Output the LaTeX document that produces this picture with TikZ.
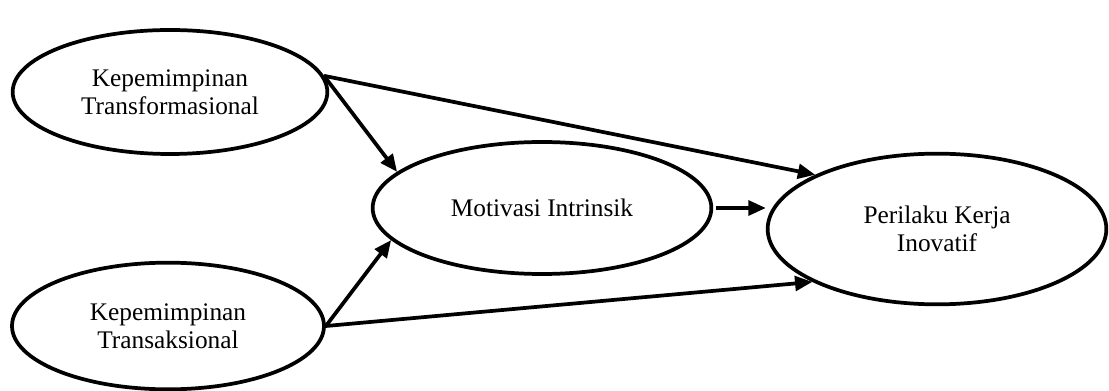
\documentclass[tikz,border=0pt]{standalone}
\usepackage{fontspec}
\setmainfont{Liberation Serif}
\usetikzlibrary{shapes.geometric,arrows.meta}

\begin{document}
\begin{tikzpicture}[x=0.75pt, y=-0.75pt, line width=2.8pt,
  every node/.style={font=\fontsize{19}{21}\selectfont},
  latent/.style={draw, ellipse, inner sep=0pt, align=center},
  link/.style={-{Triangle[length=13pt,width=11pt]}}]
\useasboundingbox (0,0) rectangle (1109,391);
\node[latent, minimum width=236pt, minimum height=93pt] (kt) at (170,92) {Kepemimpinan\\Transformasional};
\node[latent, minimum width=254pt, minimum height=99pt] (mi) at (542,208) {Motivasi Intrinsik};
\node[latent, minimum width=254pt, minimum height=113pt] (pki) at (937,229) {Perilaku Kerja\\Inovatif};
\node[latent, minimum width=234pt, minimum height=95pt] (ktr) at (168,326) {Kepemimpinan\\Transaksional};
\draw[link] (kt.6) -- (mi.166);
\draw[link] (kt.6) -- (pki.156);
\draw[link] ([xshift=2pt]mi.east) -- (mi.east -| pki.west);
\draw[link] (ktr.east) -- (mi.192);
\draw[link] (ktr.east) -- (pki.203);
\end{tikzpicture}
\end{document}
